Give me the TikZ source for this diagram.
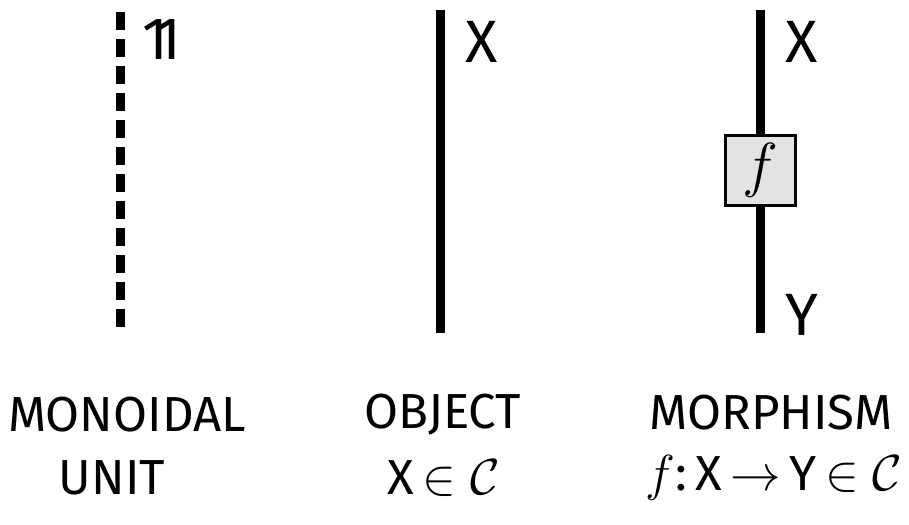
\documentclass[tikz,border=0pt]{standalone}
\usepackage{fontspec}
\setmainfont{Fira Sans}
\usepackage{amssymb}
\usetikzlibrary{positioning}
\newcommand{\unitone}{1\kern-0.22em1}
\tikzset{
    wire/.style = {line width=0.09cm, line cap=butt},
    unitwire/.style = {wire, dash pattern=on 0.18cm off 0.09cm},
    morph/.style = {rectangle, draw=black, line width=0.03cm, fill=gray!22, minimum width=0.7cm, minimum height=0.7cm, inner sep=0pt, font=\fontsize{17}{20}\selectfont},
    wirelabel/.style = {font=\fontsize{17}{20}\selectfont, anchor=west, inner sep=0pt},
    caption/.style = {font=\fontsize{14}{17}\selectfont, inner sep=0pt}
}

\begin{document}
\begin{tikzpicture}
    \useasboundingbox (0,0) rectangle (9.09,5.24);

    % Monoidal unit
    \coordinate (unit_top) at (1.20,5.12);
    \coordinate (unit_bot) at (1.20,1.94);
    \draw [unitwire] (unit_top) -- (unit_bot);
    \node (unit_label) [wirelabel] at (1.42,4.84) {\unitone};

    % Object
    \coordinate (obj_top) at (4.40,5.14);
    \coordinate (obj_bot) at (4.40,1.91);
    \draw [wire] (obj_top) -- (obj_bot);
    \node (obj_label) [wirelabel] at (4.65,4.82) {X};

    % Morphism
    \coordinate (mor_top) at (7.60,5.14);
    \coordinate (mor_bot) at (7.60,1.91);
    \node (box_f) [morph] at (7.60,3.54) {$f$};
    \draw [wire] (mor_top) -- (box_f);
    \draw [wire] (box_f) -- (mor_bot);
    \node (mor_in) [wirelabel] at (7.85,4.82) {X};
    \node (mor_out) [wirelabel] at (7.85,2.09) {Y};

    % Captions
    \node (unit_cap) [caption] at (1.27,1.09) {MONOIDAL};
    \node (unit_cap2) [caption] at (1.12,0.46) {UNIT};
    \node (obj_cap) [caption] at (4.43,1.09) {OBJECT};
    \node (obj_cap2) [caption] at (4.44,0.46) {X$\,\in\mathcal{C}$};
    \node (mor_cap) [caption] at (7.71,1.11) {MORPHISM};
    \node (mor_cap2) [caption] at (7.74,0.46) {$f$:\,X$\,\rightarrow\,$Y$\,\in\mathcal{C}$};

\end{tikzpicture}
\end{document}
